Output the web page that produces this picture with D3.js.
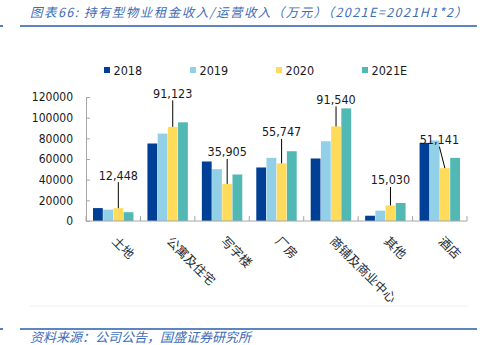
<!DOCTYPE html>
<html>
<head>
<meta charset="utf-8">
<script src="https://cdn.jsdelivr.net/npm/d3@7"></script>
<style>
  body { margin: 0; background: #fff; }
  svg { display: block; }
  text { font-family: "DejaVu Sans Condensed", "DejaVu Sans", sans-serif; }
  .cn { font-family: "Noto Sans CJK SC", sans-serif; }
</style>
</head>
<body>
<div id="chart"></div>
<script>
// rental / operating income of held properties, 10k RMB
var categories = ["土地", "公寓及住宅", "写字楼", "厂房", "商铺及商业中心", "其他", "酒店"];
var years = ["2018", "2019", "2020", "2021E"];
var v2018 = [12500, 75000, 57600, 51800, 60500, 5100, 75600];
var v2019 = [11000, 84600, 50200, 61100, 77200, 10000, 77900];
var v2020 = [12448, 91123, 35905, 55747, 91540, 15030, 51141];
var v2021E = [8500, 95500, 45000, 67500, 109000, 17400, 61100];
var yTicks = [0, 20000, 40000, 60000, 80000, 100000, 120000];

var series = [v2018, v2019, v2020, v2021E];
var colors = ["#003f96", "#92d0e8", "#ffdb5c", "#52b8b4"];

var svgWidth = 488, svgHeight = 345;
var plot = { left: 86, right: 467, top: 97, bottom: 221 };

var svg = d3.select("#chart").append("svg")
  .attr("width", svgWidth)
  .attr("height", svgHeight);

// header and footer rules
var blue = "#2a5caa";
svg.append("text")
  .attr("class", "cn")
  .attr("x", 30).attr("y", 17)
  .attr("font-size", 12.5)
  .attr("font-style", "italic")
  .attr("fill", "#3d6cb8")
  .attr("textLength", 437)
  .attr("lengthAdjust", "spacing")
  .text("图表66: 持有型物业租金收入/运营收入（万元）（2021E=2021H1*2）");
svg.append("line").attr("x1", 20).attr("x2", 477).attr("y1", 26).attr("y2", 26)
  .attr("stroke", blue).attr("stroke-width", 1.6);
svg.append("line").attr("x1", 0).attr("x2", 3).attr("y1", 26).attr("y2", 26)
  .attr("stroke", blue).attr("stroke-width", 1.6);
svg.append("line").attr("x1", 30).attr("x2", 468).attr("y1", 306).attr("y2", 306)
  .attr("stroke", "#f0f0f0").attr("stroke-width", 1);
svg.append("line").attr("x1", 20).attr("x2", 477).attr("y1", 329).attr("y2", 329)
  .attr("stroke", blue).attr("stroke-width", 1.6);
svg.append("line").attr("x1", 0).attr("x2", 3).attr("y1", 329).attr("y2", 329)
  .attr("stroke", blue).attr("stroke-width", 1.6);
svg.append("text")
  .attr("class", "cn")
  .attr("x", 30).attr("y", 342)
  .attr("font-size", 13)
  .attr("font-style", "italic")
  .attr("fill", "#3d6cb8")
  .text("资料来源：公司公告，国盛证券研究所");

// scales
var x0 = d3.scaleBand().domain(categories).range([plot.left, plot.right]).padding(0);
var x1 = d3.scaleBand().domain(years).range([7, x0.bandwidth() - 7]).paddingInner(0.04);
var y = d3.scaleLinear().domain([0, 120000]).range([plot.bottom, plot.top]);

// y axis
var yAxis = d3.axisRight(y).tickValues(yTicks).tickSize(4).tickFormat("");
svg.append("g")
  .attr("transform", "translate(" + plot.left + ",0)")
  .call(yAxis)
  .call(function(g) {
    g.select(".domain").attr("stroke", "#a6a6a6");
    g.selectAll(".tick line").attr("stroke", "#a6a6a6");
  });
svg.append("g").selectAll("text")
  .data(yTicks)
  .enter()
  .append("text")
  .attr("x", 73)
  .attr("y", d => y(d))
  .attr("dy", "0.36em")
  .attr("text-anchor", "end")
  .attr("font-size", 12)
  .attr("fill", "#1a1a1a")
  .text(d => d3.format("d")(d));

// bars
var groups = svg.append("g").selectAll("g")
  .data(categories)
  .enter()
  .append("g")
  .attr("transform", d => "translate(" + x0(d) + ",0)");

groups.selectAll("rect")
  .data((c, i) => years.map((yr, j) => ({ year: yr, value: series[j][i], color: colors[j] })))
  .enter()
  .append("rect")
  .attr("x", d => x1(d.year))
  .attr("width", x1.bandwidth())
  .attr("y", d => y(d.value))
  .attr("height", d => plot.bottom - y(d.value))
  .attr("fill", d => d.color);

// x axis with ticks between categories
var xAxis = svg.append("g");
xAxis.append("line")
  .attr("x1", plot.left).attr("x2", plot.right)
  .attr("y1", plot.bottom).attr("y2", plot.bottom)
  .attr("stroke", "#a6a6a6");
xAxis.selectAll(".xt")
  .data(categories.concat(["end"]))
  .enter()
  .append("line")
  .attr("x1", (d, i) => plot.left + i * x0.step())
  .attr("x2", (d, i) => plot.left + i * x0.step())
  .attr("y1", plot.bottom).attr("y2", plot.bottom - 5)
  .attr("stroke", "#a6a6a6");

xAxis.selectAll(".xl")
  .data(categories)
  .enter()
  .append("text")
  .attr("class", "cn")
  .attr("transform", d => "translate(" + (x0(d) + x0.bandwidth() / 2 - 2) + ",242) rotate(45)")
  .attr("font-size", 12.5)
  .attr("fill", "#2a2a2a")
  .text(d => d);

// 2020 value labels with leader lines
var labelNudge = [
  { dx: 0, dy: 33 }, { dx: 0, dy: 33.5 }, { dx: 0, dy: 32 }, { dx: 0, dy: 31.5 },
  { dx: 0, dy: 27 }, { dx: 0, dy: 25.5 }, { dx: -5.5, dy: 28.5 }
];
var fmt = d3.format(",");
var lab = svg.append("g").selectAll("g")
  .data(v2020)
  .enter()
  .append("g");
lab.append("line")
  .attr("x1", (d, i) => x0(categories[i]) + x1("2020") + x1.bandwidth() / 2 + labelNudge[i].dx)
  .attr("y1", (d, i) => y(d) - labelNudge[i].dy + 7)
  .attr("x2", (d, i) => x0(categories[i]) + x1("2020") + x1.bandwidth() / 2)
  .attr("y2", d => y(d))
  .attr("stroke", "#000")
  .attr("stroke-width", 1);
lab.append("text")
  .attr("x", (d, i) => x0(categories[i]) + x1("2020") + x1.bandwidth() / 2 + labelNudge[i].dx)
  .attr("y", (d, i) => y(d) - labelNudge[i].dy)
  .attr("dy", "0.36em")
  .attr("text-anchor", "middle")
  .attr("font-size", 12.5)
  .attr("fill", "#1a1a1a")
  .text(d => fmt(d));

// legend
var legend = svg.append("g").selectAll("g")
  .data(years)
  .enter()
  .append("g")
  .attr("transform", (d, i) => "translate(" + (104 + i * 86) + ",67)");
legend.append("rect")
  .attr("width", 6).attr("height", 6)
  .attr("fill", (d, i) => colors[i]);
legend.append("text")
  .attr("x", 9.5).attr("y", 7.6)
  .attr("font-size", 12.5)
  .attr("fill", "#1a1a1a")
  .text(d => d);
</script>
</body>
</html>
